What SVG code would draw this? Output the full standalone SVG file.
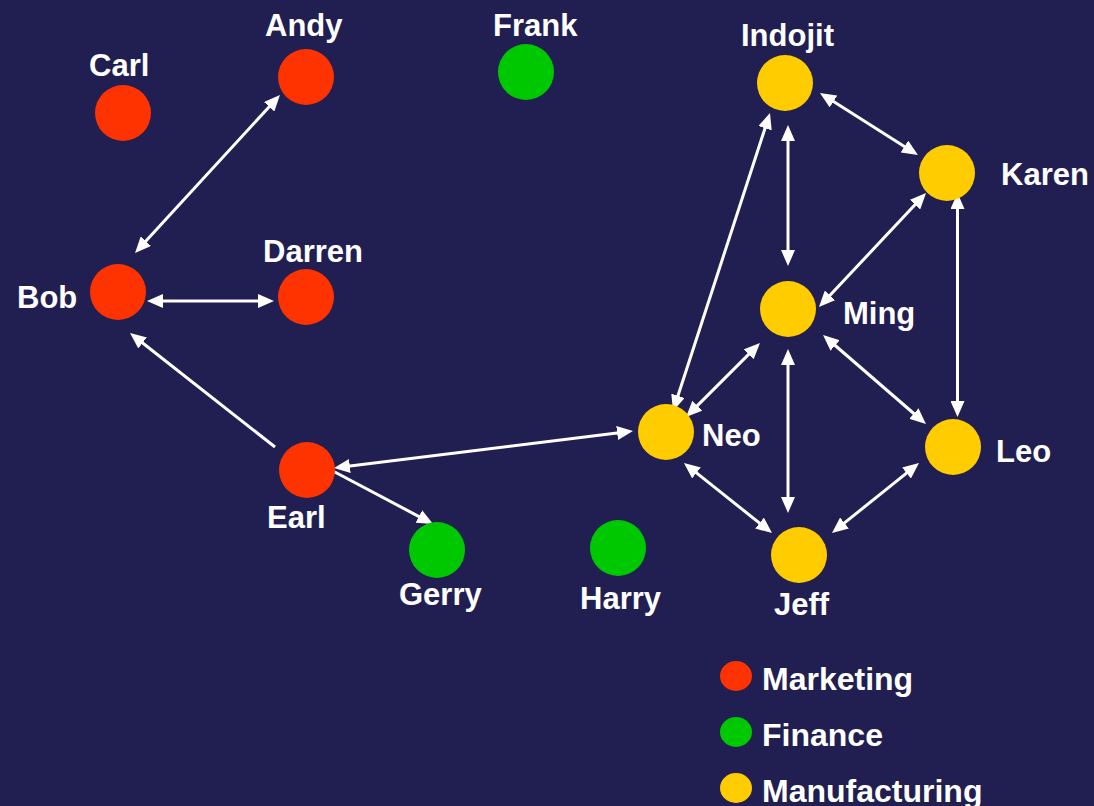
<svg xmlns="http://www.w3.org/2000/svg" width="1094" height="806" viewBox="0 0 1094 806">
  <defs>
    <style>
      .bg { fill: #211e52; }
      .mkt { fill: #ff3300; }
      .fin { fill: #00c800; }
      .man { fill: #ffcc00; }
      .lbl { font-family: "Liberation Sans", Arial, sans-serif; font-weight: bold; font-size: 31px; fill: #ffffff; }
      .key { font-size: 32px; }
      .link { stroke: #ffffff; stroke-width: 3; fill: none; }
      .both { marker-start: url(#head); marker-end: url(#head); }
      .one { marker-end: url(#head); }
    </style>
    <marker id="head" viewBox="0 0 16 14" refX="6" refY="7" markerWidth="16" markerHeight="14" markerUnits="userSpaceOnUse" orient="auto-start-reverse">
      <path d="M0,0 L16,7 L0,14 z" fill="#ffffff"/>
    </marker>
  </defs>

  <rect class="bg" x="0" y="0" width="1094" height="806"/>

  <!-- relationships -->
  <g id="connectors">
    <line class="link both" x1="141.8" y1="245.6" x2="273.2" y2="102.4"/>
    <line class="link both" x1="157" y1="301" x2="264" y2="301"/>
    <line class="link one" x1="275" y1="447" x2="137.9" y2="339.2"/>
    <line class="link both" x1="343.9" y1="466.8" x2="623.1" y2="432.2"/>
    <line class="link one" x1="331" y1="470" x2="424.2" y2="519.3"/>
    <line class="link both" x1="676.1" y1="401.5" x2="766.9" y2="122.5"/>
    <line class="link both" x1="788" y1="135" x2="788" y2="256"/>
    <line class="link both" x1="828.4" y1="98.3" x2="909.5" y2="149.7"/>
    <line class="link both" x1="919.2" y1="200.3" x2="825.8" y2="299.7"/>
    <line class="link both" x1="957.5" y1="203" x2="957.5" y2="407"/>
    <line class="link both" x1="752.9" y1="350.1" x2="693.1" y2="409.9"/>
    <line class="link both" x1="788" y1="359" x2="788" y2="503"/>
    <line class="link both" x1="830.6" y1="341.5" x2="918.4" y2="417.5"/>
    <line class="link both" x1="691.8" y1="469.2" x2="764.2" y2="526.8"/>
    <line class="link both" x1="839.8" y1="526.7" x2="911.2" y2="469.3"/>
  </g>

  <!-- Marketing -->
  <g id="carl"><circle class="mkt" cx="123" cy="113" r="28"/><text class="lbl" x="89" y="76">Carl</text></g>
  <g id="andy"><circle class="mkt" cx="306" cy="77" r="28"/><text class="lbl" x="265" y="36">Andy</text></g>
  <g id="bob"><circle class="mkt" cx="118" cy="292" r="28"/><text class="lbl" x="17" y="308">Bob</text></g>
  <g id="darren"><circle class="mkt" cx="306" cy="297" r="28"/><text class="lbl" x="263" y="262">Darren</text></g>
  <g id="earl"><circle class="mkt" cx="307" cy="470" r="28"/><text class="lbl" x="267" y="528">Earl</text></g>

  <!-- Finance -->
  <g id="frank"><circle class="fin" cx="526" cy="72" r="28"/><text class="lbl" x="493" y="36">Frank</text></g>
  <g id="gerry"><circle class="fin" cx="437" cy="550" r="28"/><text class="lbl" x="399" y="605">Gerry</text></g>
  <g id="harry"><circle class="fin" cx="618" cy="548" r="28"/><text class="lbl" x="580" y="609">Harry</text></g>

  <!-- Manufacturing -->
  <g id="indojit"><circle class="man" cx="785" cy="83" r="28"/><text class="lbl" x="741" y="46">Indojit</text></g>
  <g id="karen"><circle class="man" cx="947" cy="173" r="28"/><text class="lbl" x="1001" y="185">Karen</text></g>
  <g id="ming"><circle class="man" cx="788" cy="309" r="28"/><text class="lbl" x="843" y="324">Ming</text></g>
  <g id="neo"><circle class="man" cx="666" cy="432" r="28"/><text class="lbl" x="702" y="446">Neo</text></g>
  <g id="leo"><circle class="man" cx="953" cy="447" r="28"/><text class="lbl" x="996" y="462">Leo</text></g>
  <g id="jeff"><circle class="man" cx="799" cy="555" r="28"/><text class="lbl" x="774" y="615">Jeff</text></g>

  <!-- key -->
  <g id="legend">
    <ellipse class="mkt" cx="736" cy="676" rx="16" ry="15"/>
    <text class="lbl key" x="762" y="690">Marketing</text>
    <ellipse class="fin" cx="736" cy="732" rx="16" ry="15"/>
    <text class="lbl key" x="762" y="746">Finance</text>
    <ellipse class="man" cx="736" cy="788" rx="16" ry="15"/>
    <text class="lbl key" x="762" y="802">Manufacturing</text>
  </g>
</svg>
